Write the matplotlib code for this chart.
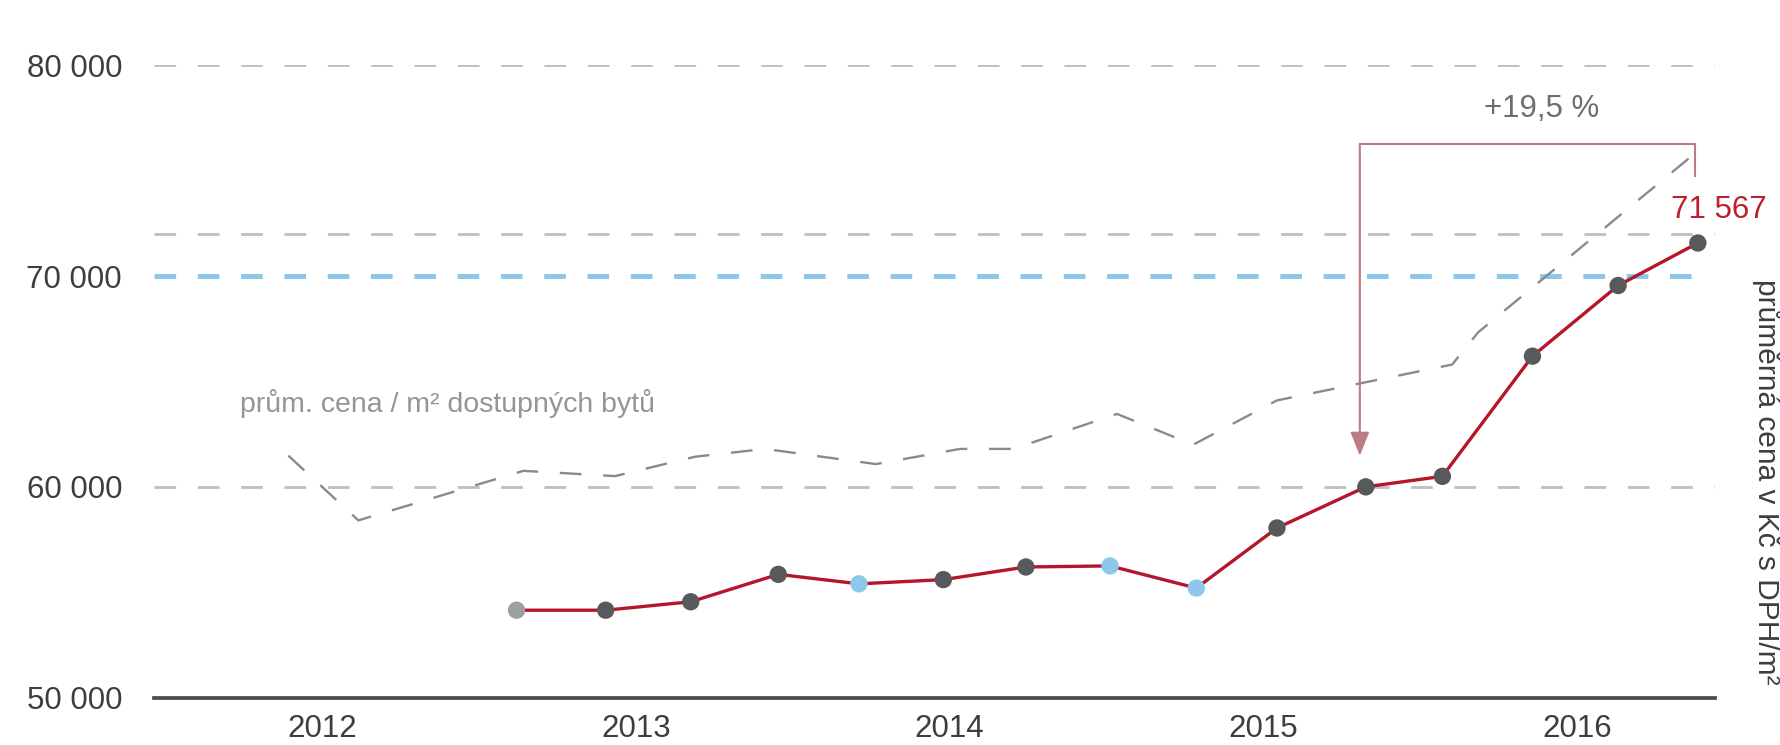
import matplotlib.pyplot as plt
from matplotlib.ticker import FuncFormatter

plt.rcParams['font.family'] = ['Liberation Sans', 'DejaVu Sans']

# average price per m2 (red line), time as decimal years
x_price = [2013.120, 2013.404, 2013.675, 2013.954, 2014.211, 2014.480, 2014.743, 2015.011,
           2015.286, 2015.543, 2015.826, 2016.070, 2016.357, 2016.630, 2016.884]
price = [54150, 54150, 54550, 55850, 55400, 55600, 56200, 56250,
         55200, 58050, 60000, 60500, 66200, 69550, 71567]
marker_kind = ['first', 'q', 'q', 'q', 'blue', 'q', 'q', 'blue',
               'blue', 'q', 'q', 'q', 'q', 'q', 'q']

# average price per m2 of available flats (gray dashed line)
x_avail = [2012.393, 2012.616, 2013.142, 2013.434, 2013.689, 2013.912, 2014.265, 2014.533,
           2014.703, 2015.033, 2015.276, 2015.543, 2016.101, 2016.184, 2016.874]
avail = [61480, 58410, 60760, 60510, 61430, 61800, 61080, 61800,
         61800, 63460, 62000, 64100, 65800, 67330, 75810]

years = [2012, 2013, 2014, 2015, 2016]
y_ticks = [50000, 60000, 70000, 80000]
gray_refs = [60000, 72000, 80000]
blue_ref = 70000
growth_label = '+19,5 %'

RED = '#b5162b'
DARK = '#58595b'
BLUE = '#8dc8ec'
LIGHT = '#9d9fa2'
GRID = '#bcbec0'
TEXT = '#3d3d3f'
BRACKET = '#b97c80'
colors = {'first': LIGHT, 'q': DARK, 'blue': BLUE}


def thousands(v, pos):
    return '{:,.0f}'.format(v).replace(',', ' ')


fig = plt.figure(figsize=(17.81, 7.45), dpi=100)
ax = fig.add_axes([0.0865, 0.0635, 0.8765, 0.849])

# reference lines
for v in gray_refs:
    ax.axhline(v, color=GRID, lw=2.0, linestyle=(0, (7.8, 7.8)), zorder=1)
ax.axhline(blue_ref, xmax=0.99, color=BLUE, lw=3.6, linestyle=(0, (4.33, 4.33)), zorder=1)

# available flats
ax.plot(x_avail, avail, color='#8a8a8c', lw=1.7, linestyle=(0, (9.2, 9.2)), zorder=2)
ax.text(2012.239, 63950, 'prům. cena / m² dostupných bytů', color='#939598',
        fontsize=20.5, ha='left', va='center')

# main series
ax.plot(x_price, price, color=RED, lw=2.4, zorder=3)
ax.scatter(x_price, price, s=12.5 ** 2, c=[colors[k] for k in marker_kind],
           zorder=4, linewidths=0)
ax.annotate('{:,}'.format(price[-1]).replace(',', ' '), xy=(x_price[-1], price[-1]),
            xytext=(15, 24), textcoords='offset points', ha='center', va='center',
            color='#be1e2d', fontsize=22.5, annotation_clip=False)

# growth bracket
x_l, x_r = 2015.807, 2016.876
ax.plot([x_l, x_r, x_r], [76270, 76270, 74730], color=BRACKET, lw=1.5,
        clip_on=False, zorder=5)
ax.annotate('', xy=(x_l, 61480), xytext=(x_l, 76270),
            arrowprops=dict(arrowstyle='-|>,head_length=1.45,head_width=0.58',
                            color=BRACKET, lw=1.5, shrinkA=0, shrinkB=0), zorder=5)
ax.text(2016.387, 77900, growth_label, color='#6d6e71', fontsize=22.5,
        ha='center', va='center')

ax.set_xlim(2011.965, 2016.939)
ax.set_ylim(50000, 80000)
ax.set_xticks([y + 0.5 for y in years])
ax.set_xticklabels([str(y) for y in years])
ax.set_yticks(y_ticks)
ax.yaxis.set_major_formatter(FuncFormatter(thousands))
ax.tick_params(axis='both', length=0, labelsize=22.5, labelcolor=TEXT)
ax.tick_params(axis='x', pad=12)
ax.tick_params(axis='y', pad=23)

for side in ['top', 'left', 'right']:
    ax.spines[side].set_visible(False)
ax.spines['bottom'].set_color('#4d4d4f')
ax.spines['bottom'].set_linewidth(2.7)

fig.text(0.992, 0.353, 'průměrná cena v Kč s DPH/m²', rotation=270, ha='center',
         va='center', fontsize=21.5, color=TEXT)

fig.savefig('out.png', dpi=100)
